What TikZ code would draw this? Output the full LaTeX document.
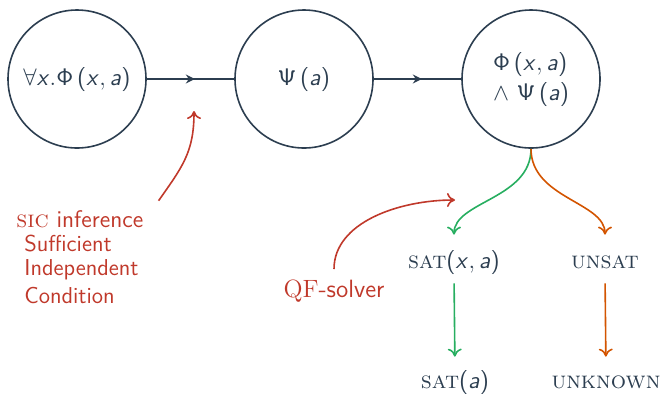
\documentclass[tikz,border=0pt]{standalone}
\usetikzlibrary{arrows.meta,decorations.markings,calc}
\SetSymbolFont{operators}{normal}{OT1}{cmss}{m}{n}
\DeclareSymbolFont{sfit}{OT1}{cmss}{m}{sl}
\DeclareMathSymbol{x}{\mathalpha}{sfit}{`x}
\DeclareMathSymbol{a}{\mathalpha}{sfit}{`a}
\definecolor{dk}{HTML}{2C3E50}
\definecolor{rd}{HTML}{C0392B}
\definecolor{gr}{HTML}{27AE60}
\definecolor{og}{HTML}{D35400}
\begin{document}
\begin{tikzpicture}[x=0.5pt,y=0.5pt,
  circ/.style={draw=dk,line width=0.8pt,circle,minimum size=69pt,inner sep=0pt,
    text=dk,font=\fontsize{12}{15}\selectfont,align=left},
  edge/.style={draw=dk,line width=0.8pt,
    decoration={markings,mark=at position 0.55 with {\arrow{Stealth[length=4.5pt,width=4.5pt]}}},
    postaction={decorate}},
  res/.style={text=dk,inner sep=0pt,font=\fontsize{12}{14}\selectfont,text height=8pt,text depth=3pt},
  redtxt/.style={text=rd,inner sep=0pt,font=\fontsize{11.5}{13}\sffamily\selectfont,anchor=base west},
  carrow/.style={line width=0.8pt,-{To[length=4pt,width=7pt]}}
]
\useasboundingbox (0,0) rectangle (662,-393);
\node[circ] (c1) at (77,-79) {$\forall x.\Phi\,(x,a)$};
\node[circ] (c2) at (304,-79) {$\Psi\,(a)$};
\node[circ] (c3) at (531,-79) {$\Phi\,(x,a)$\\$\wedge\ \Psi\,(a)$};
\draw[edge] (c1) -- (c2);
\draw[edge] (c2) -- (c3);

\node[res,anchor=base] (satxa) at (454,-268) {\textsc{sat}$(x,a)$};
\node[res,anchor=base] (unsat) at (605,-268) {\textsc{unsat}};
\node[res,anchor=base] (sata) at (455,-388) {\textsc{sat}$(a)$};
\node[res,anchor=base] (unk) at (606,-388) {\textsc{unknown}};

\draw[carrow,gr,shorten >=8.5pt] (c3.south) to[out=-90,in=90] (satxa.north);
\draw[carrow,og,shorten >=8.5pt] (c3.south) to[out=-90,in=90] (unsat.north);
\draw[carrow,gr,shorten <=4.5pt,shorten >=7.5pt] (satxa.south) -- (sata.north);
\draw[carrow,og,shorten <=4.5pt,shorten >=7.5pt] (unsat.south |- satxa.south) -- (unk.north);

\node[redtxt,font=\fontsize{12}{13}\sffamily\selectfont] (sic) at (16,-227) {\textrm{\textsc{sic}} inference};
\node[redtxt] (suf) at (24,-251) {Sufficient};
\node[redtxt] (ind) at (24,-275) {Independent};
\node[redtxt] (cond) at (24,-303) {Condition};
\node[redtxt,anchor=base,font=\fontsize{12.5}{14}\sffamily\selectfont] (qf) at (334,-297) {\textrm{QF}-solver};

\coordinate (sictip) at (194,-111);
\coordinate (qftip) at (455,-200);
\draw[carrow,rd] ([shift={(15,9)}]sic.north east) to[out=55,in=-90,looseness=1.1] (sictip);
\draw[carrow,rd,shorten <=5pt] (qf.north) to[out=90,in=180] (qftip);
\end{tikzpicture}
\end{document}
